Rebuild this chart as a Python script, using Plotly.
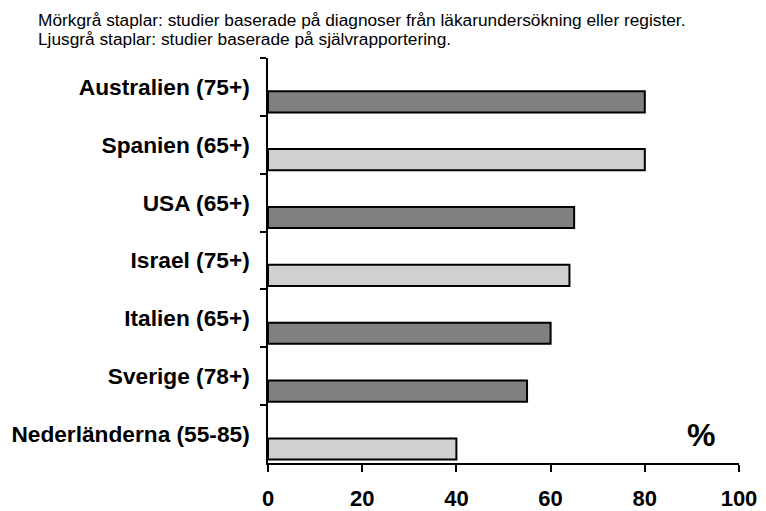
import plotly.graph_objects as go

categories = ["Australien (75+)", "Spanien (65+)", "USA (65+)", "Israel (75+)",
              "Italien (65+)", "Sverige (78+)", "Nederländerna (55-85)"]
values = [80, 80, 65, 64, 60, 55, 40]
source_type = ["register", "self", "register", "self", "register", "register", "self"]
x_ticks = [0, 20, 40, 60, 80, 100]
title_lines = ["Mörkgrå staplar: studier baserade på diagnoser från läkarundersökning eller register.",
               "Ljusgrå staplar: studier baserade på självrapportering."]

color_map = {"register": "#808080", "self": "#d0d0d0"}
FONT = "Liberation Sans, Arial, sans-serif"

fig = go.Figure()
fig.add_trace(go.Bar(
    y=categories, x=values, orientation="h",
    marker=dict(color=[color_map[s] for s in source_type],
                line=dict(color="black", width=2)),
    width=0.365, offset=0.075,
    hoverinfo="x+y",
))

fig.update_layout(
    width=766, height=511,
    margin=dict(l=268, r=27, t=58, b=48, autoexpand=False),
    paper_bgcolor="white", plot_bgcolor="white",
    showlegend=False,
    font=dict(family=FONT, color="black"),
    xaxis=dict(range=[0, 100], tickvals=x_ticks, showgrid=False, zeroline=False,
               showline=True, linecolor="black", linewidth=1.5,
               ticks="outside", ticklen=7, tickwidth=1.5, tickcolor="black",
               ticklabelstandoff=8,
               tickfont=dict(family=FONT, size=22, weight="bold", color="black")),
    yaxis=dict(type="category", categoryorder="array", categoryarray=categories,
               range=[6.5, -0.5], tickson="boundaries", showgrid=False,
               showline=True, linecolor="black", linewidth=1.5,
               ticks="outside", ticklen=6, tickwidth=1.5, tickcolor="black",
               ticklabelstandoff=12,
               tickfont=dict(family=FONT, size=22.7, weight="bold", color="black")),
)

for line, py in zip(title_lines, [1.0938, 1.0469]):
    fig.add_annotation(text=line, xref="paper", yref="paper", x=-0.4926, y=py,
                       xanchor="left", yanchor="middle", showarrow=False,
                       font=dict(family=FONT, size=17.3, color="black"))

fig.add_annotation(text="<b>%</b>", xref="x", yref="paper", x=92, y=0.069,
                   xanchor="center", yanchor="middle", showarrow=False,
                   font=dict(family=FONT, size=32, color="black"))

fig.write_html("out.html", config={"displayModeBar": False},
               post_script="document.body.style.margin='0px';document.body.style.overflow='hidden';")
